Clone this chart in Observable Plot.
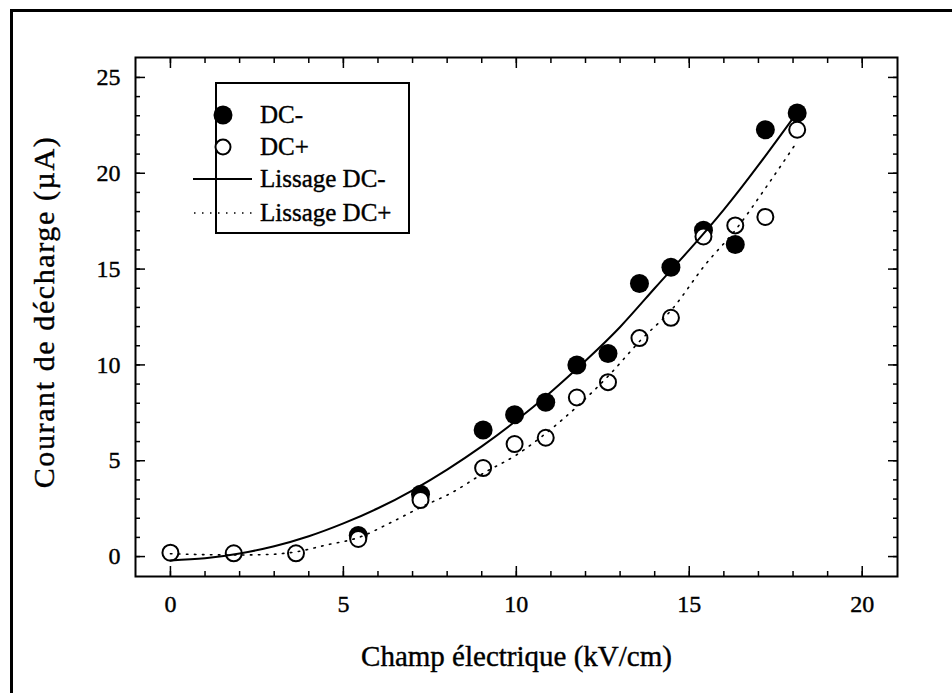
<!DOCTYPE html>
<html><head><meta charset="utf-8">
<script src="https://cdn.jsdelivr.net/npm/d3@7"></script>
<script src="https://cdn.jsdelivr.net/npm/@observablehq/plot@0.6"></script>
<style>
html,body{margin:0;padding:0;background:#fff;}
#wrap{position:relative;width:952px;height:693px;overflow:hidden;font-family:"Liberation Serif","Times New Roman",serif;}
#border{position:absolute;left:10px;top:9px;width:980px;height:720px;border-top:3px solid #000;border-left:3px solid #000;pointer-events:none;}
#legend{position:absolute;left:0;top:0;pointer-events:none;}
#wrap text{stroke:#000;stroke-width:0.4px;}
.ytitle text{letter-spacing:1.6px;}
</style>
</head><body>
<div id="wrap"><div id="chart"></div><div id="border"></div></div>
<script>
// ---- data ----
const xTitle = "Champ électrique (kV/cm)";
const yTitle = "Courant de décharge (µA)";
const xTicks = [0, 5, 10, 15, 20];
const yTicks = [0, 5, 10, 15, 20, 25];
const xMinor = [0,1,2,3,4,5,6,7,8,9,10,11,12,13,14,15,16,17,18,19,20];
const yMinor = [0,1,2,3,4,5,6,7,8,9,10,11,12,13,14,15,16,17,18,19,20,21,22,23,24,25];

const dcMinusX = [5.43, 7.23, 9.04, 9.95, 10.85, 11.75, 12.65, 13.56, 14.47, 15.41, 16.33, 17.2, 18.12];
const dcMinusY = [1.1, 3.25, 6.6, 7.4, 8.05, 10.0, 10.6, 14.25, 15.1, 17.03, 16.28, 22.27, 23.14];

const dcPlusX = [0, 1.83, 3.63, 5.43, 7.23, 9.04, 9.95, 10.85, 11.75, 12.65, 13.56, 14.47, 15.41, 16.33, 17.2, 18.12];
const dcPlusY = [0.2, 0.17, 0.17, 0.92, 2.95, 4.62, 5.87, 6.2, 8.3, 9.1, 11.4, 12.46, 16.7, 17.28, 17.72, 22.27];

const fitMinusX = [0, 1, 2, 3, 4, 5, 6, 7, 8, 9, 10, 11, 12, 13, 14, 15, 16, 17, 18.05];
const fitMinusY = [-0.2, -0.09, 0.16, 0.54, 1.06, 1.73, 2.52, 3.46, 4.54, 5.75, 7.1, 8.59, 10.22, 11.98, 14.0, 16.0, 18.1, 20.42, 23.0];

const fitPlusX = [0, 1, 1.83, 2.7, 3.64, 4.5, 5.45, 6.4, 7.27, 8.1, 9.1, 10, 10.9, 11.8, 12.7, 13.6, 14.5, 15.45, 16.36, 17.27, 18.1];
const fitPlusY = [0.15, 0.1, 0.08, 0.1, 0.25, 0.6, 1.0, 1.8, 2.6, 3.3, 4.4, 5.3, 6.5, 7.9, 9.5, 11.3, 12.9, 15.2, 17.1, 19.4, 21.6];

const legendLabels = ["DC-", "DC+", "Lissage DC-", "Lissage DC+"];

// ---- tables ----
const dcMinus = dcMinusX.map((x, i) => ({x, y: dcMinusY[i]}));
const dcPlus = dcPlusX.map((x, i) => ({x, y: dcPlusY[i]}));
const fitMinus = fitMinusX.map((x, i) => ({x, y: fitMinusY[i]}));
const fitPlus = fitPlusX.map((x, i) => ({x, y: fitPlusY[i]}));
const blank = () => "";

const plot = Plot.plot({
  width: 952, height: 693,
  marginLeft: 135, marginRight: 55, marginTop: 57, marginBottom: 117,
  x: {domain: [-1.01, 21.02]},
  y: {domain: [-1.04, 26.04]},
  style: {fontFamily: "'Liberation Serif', 'Times New Roman', serif", fontSize: "24px", color: "black", background: "white", overflow: "visible"},
  marks: [
    Plot.axisX(xMinor, {anchor: "bottom", tickSize: -5, tickFormat: blank, label: null, strokeWidth: 1.5}),
    Plot.axisX(xMinor, {anchor: "top", tickSize: -5, tickFormat: blank, label: null, strokeWidth: 1.5}),
    Plot.axisX(xTicks, {anchor: "bottom", tickSize: -10, tickFormat: blank, label: null, strokeWidth: 1.5}),
    Plot.axisX(xTicks, {anchor: "top", tickSize: -10, tickFormat: blank, label: null, strokeWidth: 1.5}),
    Plot.axisX(xTicks, {anchor: "bottom", tickSize: 0, tickPadding: 18, label: null}),
    Plot.axisY(yMinor, {anchor: "left", tickSize: -5, tickFormat: blank, label: null, strokeWidth: 1.5}),
    Plot.axisY(yMinor, {anchor: "right", tickSize: -5, tickFormat: blank, label: null, strokeWidth: 1.5}),
    Plot.axisY(yTicks, {anchor: "left", tickSize: -10, tickFormat: blank, label: null, strokeWidth: 1.5}),
    Plot.axisY(yTicks, {anchor: "right", tickSize: -10, tickFormat: blank, label: null, strokeWidth: 1.5}),
    Plot.axisY(yTicks, {anchor: "left", tickSize: 0, tickPadding: 15, label: null}),
    Plot.frame({stroke: "black", strokeWidth: 2}),
    Plot.dot(dcMinus, {x: "x", y: "y", r: 9.5, fill: "black", stroke: null}),
    Plot.dot(dcPlus, {x: "x", y: "y", r: 8, fill: "white", stroke: "black", strokeWidth: 2}),
    Plot.line(fitMinus, {x: "x", y: "y", stroke: "black", strokeWidth: 2, curve: "natural"}),
    Plot.line(fitPlus, {x: "x", y: "y", stroke: "black", strokeWidth: 1.6, strokeDasharray: "1.5,6.5", curve: "monotone-x"}),
    Plot.text([xTitle], {text: d => d, frameAnchor: "bottom", textAnchor: "middle", lineAnchor: "middle", dy: 80, fontSize: 29}),
    Plot.text([yTitle], {text: d => d, frameAnchor: "left", textAnchor: "middle", lineAnchor: "middle", rotate: -90, dx: -91, dy: -5, fontSize: 30, className: "ytitle"})
  ]
});
document.getElementById("chart").appendChild(plot);

// ---- legend ----
const ns = "http://www.w3.org/2000/svg";
const lg = document.createElementNS(ns, "svg");
lg.setAttribute("id", "legend");
lg.setAttribute("width", 952);
lg.setAttribute("height", 693);
const rowY = [115, 147, 179, 213];
let html = `<rect x="216" y="83" width="193" height="150" fill="white" stroke="black" stroke-width="2"/>`;
html += `<circle cx="223" cy="${rowY[0]}" r="9.5" fill="black"/>`;
html += `<circle cx="223" cy="${rowY[1]}" r="7.5" fill="white" stroke="black" stroke-width="2"/>`;
html += `<line x1="193" x2="252" y1="${rowY[2]}" y2="${rowY[2]}" stroke="black" stroke-width="2"/>`;
html += `<line x1="194" x2="252" y1="${rowY[3]}" y2="${rowY[3]}" stroke="black" stroke-width="1.6" stroke-dasharray="1.5,6.5"/>`;
legendLabels.forEach((t, i) => {
  html += `<text x="260" y="${rowY[i] + 8}" font-family="'Liberation Serif', 'Times New Roman', serif" font-size="25" fill="black">${t}</text>`;
});
lg.innerHTML = html;
document.getElementById("wrap").appendChild(lg);
</script>
</body></html>
